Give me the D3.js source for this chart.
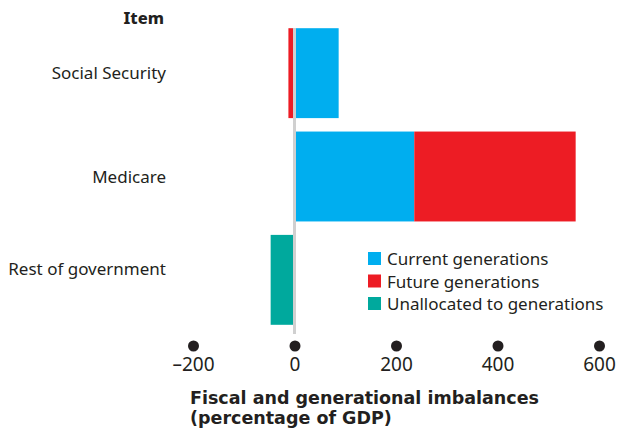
<!DOCTYPE html>
<html>
<head>
<meta charset="utf-8">
<script src="https://cdn.jsdelivr.net/npm/d3@7"></script>
<style>
  body { margin: 0; background: #fff; }
  svg text { font-family: "Noto Sans", sans-serif; fill: #231f20; }
</style>
</head>
<body>
<div id="chart"></div>
<script>
var items = ["Social Security", "Medicare", "Rest of government"];
var current = [87, 236, 0];
var future = [-12, 318, 0];
var unallocated = [0, 0, -47];
var seriesNames = ["Current generations", "Future generations", "Unallocated to generations"];
var seriesColors = ["#00aeef", "#ed1c24", "#00a99d"];
var xTicks = [-200, 0, 200, 400, 600];

var width = 624, height = 432;
var svg = d3.select("#chart").append("svg")
    .attr("width", width)
    .attr("height", height);

var x = d3.scaleLinear().domain([-200, 600]).range([193, 599]);
var y = d3.scaleBand().domain(items).range([22, 331]).paddingInner(0.13).paddingOuter(0.06);

// stack: positive values stack rightwards from zero, negatives leftwards
var rows = items.map(function (d, i) {
    var segs = [];
    var pos = 0, neg = 0;
    [current[i], future[i], unallocated[i]].forEach(function (v, k) {
        if (v === 0) return;
        if (v > 0) { segs.push({k: k, x0: pos, x1: pos + v}); pos += v; }
        else { segs.push({k: k, x0: neg + v, x1: neg}); neg += v; }
    });
    return {item: d, segs: segs};
});

var g = svg.selectAll(".row")
    .data(rows)
    .enter()
    .append("g")
    .attr("class", "row");

g.selectAll("rect")
    .data(function (d) { return d.segs.map(function (s) { s.item = d.item; return s; }); })
    .enter()
    .append("rect")
    .attr("x", function (d) { return x(d.x0); })
    .attr("width", function (d) { return x(d.x1) - x(d.x0); })
    .attr("y", function (d) { return y(d.item); })
    .attr("height", y.bandwidth())
    .attr("fill", function (d) { return seriesColors[d.k]; });

// zero line
svg.append("line")
    .attr("x1", x(0)).attr("x2", x(0))
    .attr("y1", 28).attr("y2", 334)
    .attr("stroke", "#d0d0d0")
    .attr("stroke-width", 3);

// category labels (last one sits a bit above its bar in the original)
var labelShift = [0, 0, -11];
svg.selectAll(".cat")
    .data(items)
    .enter()
    .append("text")
    .attr("class", "cat")
    .attr("x", 166)
    .attr("y", function (d, i) { return y(d) + y.bandwidth() / 2 + 6 + labelShift[i]; })
    .attr("text-anchor", "end")
    .style("font-size", "17px")
    .text(function (d) { return d; });

svg.append("text")
    .attr("x", 164)
    .attr("y", 24)
    .attr("text-anchor", "end")
    .style("font-size", "16.5px")
    .style("font-weight", "800")
    .text("Item");

// x axis with dot ticks
var axis = svg.append("g")
    .attr("transform", "translate(0,346)")
    .call(d3.axisBottom(x).tickValues(xTicks).tickSize(0).tickPadding(12)
        .tickFormat(function (d) { return d < 0 ? "\u2013" + Math.abs(d) : d; }));
axis.select(".domain").remove();
axis.selectAll(".tick text")
    .style("font-size", "19px")
    .style("font-family", "\"Noto Sans\", sans-serif")
    .attr("fill", "#231f20");
axis.selectAll(".tick")
    .append("circle")
    .attr("r", 5.5)
    .attr("fill", "#231f20");

svg.append("text")
    .attr("x", 190)
    .attr("y", 403.5)
    .style("font-family", "\"DejaVu Sans\", sans-serif")
    .style("font-size", "17.5px")
    .style("font-weight", "bold")
    .text("Fiscal and generational imbalances");
svg.append("text")
    .attr("x", 190)
    .attr("y", 423.5)
    .style("font-family", "\"DejaVu Sans\", sans-serif")
    .style("font-size", "17.5px")
    .style("font-weight", "bold")
    .text("(percentage of GDP)");

// legend
var legend = svg.selectAll(".legend")
    .data(seriesNames)
    .enter()
    .append("g")
    .attr("class", "legend")
    .attr("transform", function (d, i) { return "translate(368," + (252 + i * 22.5) + ")"; });
legend.append("rect")
    .attr("width", 13).attr("height", 13)
    .attr("fill", function (d, i) { return seriesColors[i]; });
legend.append("text")
    .attr("x", 19)
    .attr("y", 13)
    .style("font-size", "17px")
    .text(function (d) { return d; });
</script>
</body>
</html>
